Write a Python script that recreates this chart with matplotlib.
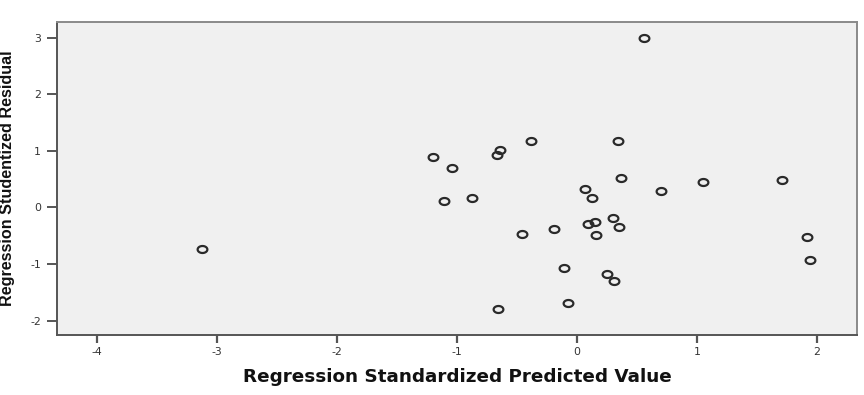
import matplotlib
matplotlib.use("Agg")
import matplotlib.pyplot as plt
import numpy as np
from matplotlib.path import Path

predicted = [0.559, -0.386, 0.346, -0.637, -0.664, -1.040, 0.365, 1.052, 1.711, 0.699,
             0.064, 0.129, -0.873, 0.301, 0.154, 0.092, 0.351, -0.192, 0.162, -0.459,
             1.917, 1.948, -0.111, 0.250, 0.306, -0.075, -0.659, -1.199, -1.107, -3.130]
residual = [2.996, 1.177, 1.177, 1.012, 0.924, 0.700, 0.518, 0.452, 0.482, 0.293,
            0.329, 0.170, 0.159, -0.194, -0.260, -0.300, -0.353, -0.383, -0.489, -0.466,
            -0.519, -0.926, -1.067, -1.184, -1.302, -1.686, -1.802, 0.894, 0.111, -0.731]
x_ticks = [-4, -3, -2, -1, 0, 1, 2]
y_ticks = [-2, -1, 0, 1, 2, 3]
x_label = "Regression Standardized Predicted Value"
y_label = "Regression Studentized Residual"

W, H = 864, 395
fig = plt.figure(figsize=(W / 100, H / 100), dpi=100)
fig.patch.set_facecolor("white")

left, right, top, bottom = 57, 856.7, 21.7, 335
ax = fig.add_axes([left / W, 1 - bottom / H, (right - left) / W, (bottom - top) / H])
ax.set_facecolor("#f0f0f0")

# elliptical open marker (wider than tall)
t = np.linspace(0, 2 * np.pi, 60)
ell = Path(np.column_stack([np.cos(t) * 0.5, np.sin(t) * 0.36]), closed=True)

ax.plot(predicted, residual, linestyle="none", marker=ell, markersize=7.0,
        markerfacecolor="none", markeredgecolor="#2a2a2a", markeredgewidth=1.6)

ax.set_xlim(-4.336, 2.334)
ax.set_ylim(-2.253, 3.279)
ax.set_xticks(x_ticks)
ax.set_yticks(y_ticks)
ax.set_xticklabels([str(v) for v in x_ticks])
ax.set_yticklabels([str(v) for v in y_ticks])

for s in ["left", "bottom"]:
    ax.spines[s].set_color("#555555")
    ax.spines[s].set_linewidth(1.4)
for s in ["top", "right"]:
    ax.spines[s].set_color("#8a8a8a")
    ax.spines[s].set_linewidth(1.4)

tick_font = ["DejaVu Sans"]
ax.tick_params(axis="x", direction="out", length=5.5, width=1.6, color="#555555",
               labelsize=7.8, labelcolor="#333333", pad=3)
ax.tick_params(axis="y", direction="out", length=7.5, width=1.4, color="#555555",
               labelsize=7.8, labelcolor="#333333", pad=4)
for lab in ax.get_xticklabels() + ax.get_yticklabels():
    lab.set_family(tick_font)

xl = fig.text(456.9 / W, 1 - 377 / H, x_label, ha="center", va="center",
              fontsize=12, fontweight="bold", color="#111111",
              family=["DejaVu Sans"])
yl = fig.text(7.5 / W, 1 - 178.4 / H, y_label, ha="center", va="center", rotation=90,
              fontsize=12, fontweight="bold", color="#111111",
              family=["Liberation Sans Narrow", "Liberation Sans", "DejaVu Sans"])

# scale label font sizes to the reference text extents
fig.canvas.draw()
r = fig.canvas.get_renderer()
bx = xl.get_window_extent(r)
xl.set_fontsize(12 * 427 / bx.width)
by = yl.get_window_extent(r)
yl.set_fontsize(12 * 254 / by.height)

fig.savefig("out.png", dpi=100, facecolor="white")
